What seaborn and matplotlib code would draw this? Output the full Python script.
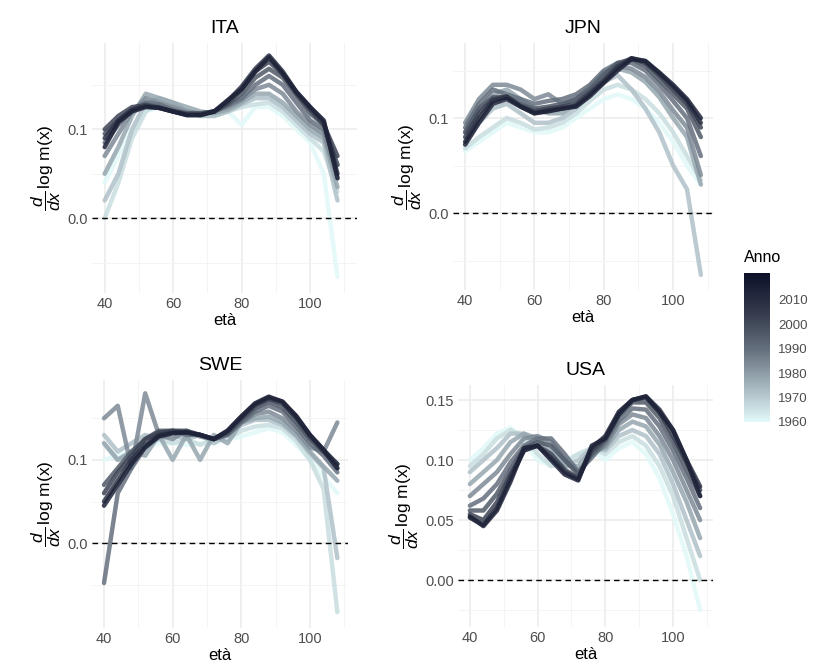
import matplotlib
matplotlib.use("Agg")
import numpy as np
import pandas as pd
import matplotlib.pyplot as plt
import seaborn as sns
from matplotlib.colors import LinearSegmentedColormap, Normalize
from matplotlib.cm import ScalarMappable
from matplotlib.ticker import FixedLocator, FormatStrFormatter

# Age grid and the calendar years drawn as separate curves
ages = [40, 44, 48, 52, 56, 60, 64, 68, 72, 76, 80, 84, 88, 92, 96, 100, 104, 108]
years = [1960, 1966, 1972, 1978, 1984, 1990, 1996, 2002, 2008, 2014]

# d/dx log m(x) by year (rows) and age (columns)
ita = [
    [0.040, 0.070, 0.100, 0.120, 0.125, 0.120, 0.115, 0.115, 0.115, 0.120, 0.105, 0.125, 0.125, 0.115, 0.100, 0.085, 0.050, -0.066],
    [0.000, 0.040, 0.090, 0.120, 0.130, 0.125, 0.120, 0.115, 0.115, 0.120, 0.125, 0.128, 0.130, 0.120, 0.105, 0.090, 0.075, 0.030],
    [0.020, 0.050, 0.100, 0.130, 0.135, 0.130, 0.120, 0.115, 0.115, 0.120, 0.128, 0.135, 0.135, 0.125, 0.110, 0.095, 0.085, 0.020],
    [0.050, 0.080, 0.115, 0.140, 0.135, 0.130, 0.125, 0.120, 0.118, 0.122, 0.130, 0.140, 0.140, 0.130, 0.115, 0.100, 0.090, 0.035],
    [0.070, 0.095, 0.120, 0.135, 0.130, 0.125, 0.120, 0.118, 0.120, 0.125, 0.133, 0.145, 0.150, 0.140, 0.120, 0.105, 0.095, 0.045],
    [0.085, 0.105, 0.122, 0.130, 0.128, 0.122, 0.118, 0.118, 0.120, 0.127, 0.135, 0.150, 0.160, 0.150, 0.130, 0.110, 0.100, 0.060],
    [0.095, 0.110, 0.122, 0.128, 0.125, 0.120, 0.118, 0.118, 0.120, 0.128, 0.140, 0.158, 0.168, 0.158, 0.138, 0.118, 0.105, 0.060],
    [0.100, 0.115, 0.125, 0.127, 0.124, 0.120, 0.117, 0.117, 0.120, 0.130, 0.145, 0.165, 0.176, 0.162, 0.140, 0.122, 0.105, 0.070],
    [0.090, 0.110, 0.122, 0.126, 0.124, 0.120, 0.116, 0.116, 0.120, 0.132, 0.148, 0.168, 0.183, 0.165, 0.142, 0.125, 0.108, 0.050],
    [0.080, 0.108, 0.120, 0.125, 0.124, 0.120, 0.116, 0.116, 0.120, 0.133, 0.145, 0.165, 0.181, 0.163, 0.142, 0.125, 0.110, 0.045],
]
jpn = [
    [0.065, 0.075, 0.085, 0.095, 0.090, 0.085, 0.085, 0.090, 0.100, 0.110, 0.120, 0.125, 0.120, 0.110, 0.095, 0.075, 0.050, 0.030],
    [0.068, 0.080, 0.090, 0.100, 0.095, 0.088, 0.090, 0.095, 0.105, 0.118, 0.130, 0.135, 0.130, 0.120, 0.105, 0.085, 0.060, 0.035],
    [0.075, 0.095, 0.110, 0.115, 0.105, 0.095, 0.095, 0.100, 0.110, 0.125, 0.138, 0.145, 0.130, 0.110, 0.085, 0.050, 0.025, -0.065],
    [0.085, 0.110, 0.125, 0.130, 0.120, 0.110, 0.105, 0.105, 0.115, 0.130, 0.145, 0.152, 0.148, 0.138, 0.122, 0.100, 0.080, 0.030],
    [0.095, 0.120, 0.135, 0.135, 0.130, 0.120, 0.125, 0.115, 0.120, 0.133, 0.148, 0.155, 0.152, 0.143, 0.128, 0.108, 0.090, 0.040],
    [0.090, 0.115, 0.130, 0.125, 0.120, 0.115, 0.118, 0.120, 0.125, 0.135, 0.150, 0.158, 0.158, 0.150, 0.135, 0.118, 0.100, 0.060],
    [0.085, 0.110, 0.122, 0.122, 0.115, 0.110, 0.112, 0.115, 0.120, 0.130, 0.145, 0.158, 0.162, 0.155, 0.140, 0.125, 0.110, 0.080],
    [0.080, 0.105, 0.120, 0.123, 0.113, 0.107, 0.110, 0.112, 0.115, 0.127, 0.140, 0.155, 0.163, 0.158, 0.145, 0.130, 0.115, 0.090],
    [0.075, 0.100, 0.118, 0.122, 0.112, 0.105, 0.108, 0.110, 0.113, 0.125, 0.138, 0.153, 0.163, 0.160, 0.147, 0.133, 0.118, 0.095],
    [0.072, 0.095, 0.115, 0.120, 0.112, 0.105, 0.107, 0.110, 0.112, 0.123, 0.137, 0.150, 0.162, 0.160, 0.148, 0.135, 0.120, 0.100],
]
swe = [
    [0.100, 0.105, 0.110, 0.115, 0.120, 0.120, 0.118, 0.120, 0.120, 0.125, 0.128, 0.133, 0.138, 0.133, 0.118, 0.100, 0.080, 0.060],
    [0.120, 0.100, 0.110, 0.115, 0.125, 0.120, 0.125, 0.118, 0.125, 0.125, 0.135, 0.140, 0.142, 0.138, 0.123, 0.100, 0.065, -0.083],
    [0.130, 0.110, 0.120, 0.130, 0.125, 0.130, 0.125, 0.130, 0.120, 0.130, 0.142, 0.148, 0.148, 0.142, 0.128, 0.108, 0.090, -0.018],
    [0.120, 0.100, 0.110, 0.105, 0.130, 0.100, 0.130, 0.100, 0.130, 0.120, 0.145, 0.150, 0.152, 0.145, 0.130, 0.110, 0.092, 0.075],
    [0.150, 0.165, 0.090, 0.180, 0.130, 0.125, 0.135, 0.128, 0.125, 0.130, 0.145, 0.155, 0.158, 0.150, 0.135, 0.115, 0.110, 0.145],
    [-0.048, 0.060, 0.090, 0.115, 0.130, 0.135, 0.130, 0.130, 0.125, 0.130, 0.145, 0.158, 0.165, 0.158, 0.140, 0.120, 0.105, 0.085],
    [0.070, 0.090, 0.110, 0.125, 0.135, 0.135, 0.133, 0.130, 0.125, 0.132, 0.148, 0.162, 0.170, 0.163, 0.145, 0.125, 0.110, 0.090],
    [0.060, 0.085, 0.105, 0.125, 0.133, 0.135, 0.135, 0.130, 0.125, 0.133, 0.150, 0.165, 0.173, 0.168, 0.150, 0.128, 0.110, 0.095],
    [0.050, 0.075, 0.100, 0.118, 0.130, 0.133, 0.133, 0.130, 0.125, 0.135, 0.152, 0.167, 0.175, 0.170, 0.152, 0.130, 0.112, 0.095],
    [0.045, 0.070, 0.095, 0.115, 0.128, 0.132, 0.133, 0.130, 0.125, 0.135, 0.152, 0.168, 0.176, 0.170, 0.153, 0.130, 0.112, 0.090],
]
usa = [
    [0.100, 0.110, 0.122, 0.127, 0.115, 0.100, 0.095, 0.100, 0.105, 0.108, 0.100, 0.110, 0.115, 0.105, 0.085, 0.055, 0.020, -0.025],
    [0.095, 0.105, 0.118, 0.125, 0.120, 0.105, 0.095, 0.098, 0.105, 0.110, 0.105, 0.115, 0.120, 0.112, 0.095, 0.070, 0.035, 0.000],
    [0.090, 0.100, 0.110, 0.122, 0.122, 0.112, 0.100, 0.095, 0.100, 0.110, 0.108, 0.120, 0.125, 0.120, 0.105, 0.080, 0.050, 0.020],
    [0.080, 0.090, 0.100, 0.115, 0.122, 0.118, 0.108, 0.095, 0.095, 0.108, 0.110, 0.125, 0.132, 0.128, 0.113, 0.090, 0.065, 0.035],
    [0.070, 0.080, 0.090, 0.105, 0.118, 0.120, 0.115, 0.100, 0.090, 0.105, 0.112, 0.130, 0.138, 0.135, 0.120, 0.100, 0.075, 0.050],
    [0.062, 0.068, 0.080, 0.098, 0.112, 0.118, 0.118, 0.105, 0.090, 0.102, 0.115, 0.133, 0.143, 0.142, 0.128, 0.108, 0.085, 0.060],
    [0.058, 0.058, 0.072, 0.092, 0.110, 0.115, 0.112, 0.100, 0.088, 0.105, 0.117, 0.137, 0.148, 0.148, 0.135, 0.115, 0.092, 0.070],
    [0.055, 0.050, 0.065, 0.088, 0.108, 0.112, 0.105, 0.092, 0.085, 0.108, 0.118, 0.140, 0.150, 0.152, 0.140, 0.120, 0.098, 0.075],
    [0.052, 0.046, 0.060, 0.085, 0.108, 0.112, 0.102, 0.090, 0.084, 0.110, 0.120, 0.140, 0.150, 0.153, 0.142, 0.125, 0.100, 0.078],
    [0.053, 0.045, 0.058, 0.082, 0.110, 0.112, 0.100, 0.088, 0.083, 0.112, 0.118, 0.138, 0.150, 0.153, 0.140, 0.125, 0.100, 0.070],
]

countries = ["ITA", "JPN", "SWE", "USA"]
values = {"ITA": ita, "JPN": jpn, "SWE": swe, "USA": usa}

sns.set_theme(style="whitegrid")
plt.rcParams["font.family"] = ["Liberation Sans", "DejaVu Sans"]
plt.rcParams["mathtext.fontset"] = "custom"
plt.rcParams["mathtext.rm"] = "Liberation Sans"
plt.rcParams["mathtext.it"] = "Liberation Sans:italic"

# light cyan for the earliest years through slate grey to dark navy
cmap = LinearSegmentedColormap.from_list(
    "anno",
    [(0.0, "#E2F9F9"), (0.18, "#B4C6CC"), (0.48, "#66717F"),
     (0.72, "#363D4E"), (1.0, "#0C1029")],
)
norm = Normalize(1960, 2021)

W, H = 815, 670
fig = plt.figure(figsize=(W / 100, H / 100), dpi=100)
fig.patch.set_facecolor("white")

# panel boxes in pixels: left, top, right, bottom
boxes = {
    "ITA": (92, 43, 357, 293),
    "JPN": (453, 43, 713, 290),
    "SWE": (92, 380, 348, 628),
    "USA": (458, 385, 713, 627),
}
xlims = {"ITA": (36.3, 113.7), "JPN": (36.5, 111.5), "SWE": (36.5, 111.1), "USA": (36.5, 111.8)}
ylims = {"ITA": (-0.084, 0.197), "JPN": (-0.081, 0.179), "SWE": (-0.102, 0.196), "USA": (-0.039, 0.1625)}
yticks = {
    "ITA": ([0.0, 0.1], [-0.05, 0.05, 0.15], "%.1f"),
    "JPN": ([0.0, 0.1], [-0.05, 0.05, 0.15], "%.1f"),
    "SWE": ([0.0, 0.1], [-0.05, 0.05, 0.15], "%.1f"),
    "USA": ([0.0, 0.05, 0.10, 0.15], [-0.025, 0.025, 0.075, 0.125], "%.2f"),
}

for c in countries:
    l, t, r, b = boxes[c]
    ax = fig.add_axes([l / W, 1 - b / H, (r - l) / W, (b - t) / H])
    rows = []
    for yr, vals in zip(years, values[c]):
        for a, v in zip(ages, vals):
            rows.append((yr, a, v))
    df = pd.DataFrame(rows, columns=["Anno", "età", "valore"])
    sns.lineplot(data=df, x="età", y="valore", hue="Anno", units="Anno",
                 estimator=None, palette=cmap, hue_norm=norm, sort=False,
                 linewidth=3.2, alpha=0.85, legend=False, ax=ax)
    for ln in ax.lines:
        ln.set_solid_joinstyle("round")
        ln.set_solid_capstyle("round")
    ax.axhline(0, color="black", lw=1.0, ls=(0, (4, 3)), zorder=5)

    ax.set_xlim(*xlims[c])
    ax.set_ylim(*ylims[c])
    ax.xaxis.set_major_locator(FixedLocator([40, 60, 80, 100]))
    ax.xaxis.set_minor_locator(FixedLocator([50, 70, 90, 110]))
    maj, mino, fmt = yticks[c]
    ax.yaxis.set_major_locator(FixedLocator(maj))
    ax.yaxis.set_minor_locator(FixedLocator(mino))
    ax.yaxis.set_major_formatter(FormatStrFormatter(fmt))

    ax.set_facecolor("white")
    ax.grid(which="major", color="#EBEBEB", lw=1.1)
    ax.grid(which="minor", color="#F3F3F3", lw=0.6)
    ax.set_axisbelow(True)
    for sp in ax.spines.values():
        sp.set_visible(False)
    ax.tick_params(which="both", length=0, labelcolor="#4D4D4D", labelsize=10.5, pad=3)

    ax.set_title(c, fontsize=14, pad=7, color="black")
    ax.set_xlabel("età", fontsize=12, labelpad=1, color="black")
    ax.set_ylabel(r"$\dfrac{d}{dx}\,\mathrm{log\ m(x)}$", fontsize=12.5, labelpad=3, color="black")

# colour bar for the year
cax = fig.add_axes([744 / W, 1 - 422 / H, 26 / W, 149 / H])
sm = ScalarMappable(norm=norm, cmap=cmap)
cb = fig.colorbar(sm, cax=cax, ticks=[1960, 1970, 1980, 1990, 2000, 2010])
cb.outline.set_visible(False)
cax.tick_params(which="both", left=True, right=True, labelleft=False, labelright=True,
                direction="in", length=5, width=1, color="white",
                labelsize=9.5, labelcolor="#4D4D4D", pad=6)
cax.minorticks_off()
cax.set_title("Anno", fontsize=11.5, loc="left", pad=8, color="black")

fig.savefig("out.png", dpi=100, facecolor="white")
